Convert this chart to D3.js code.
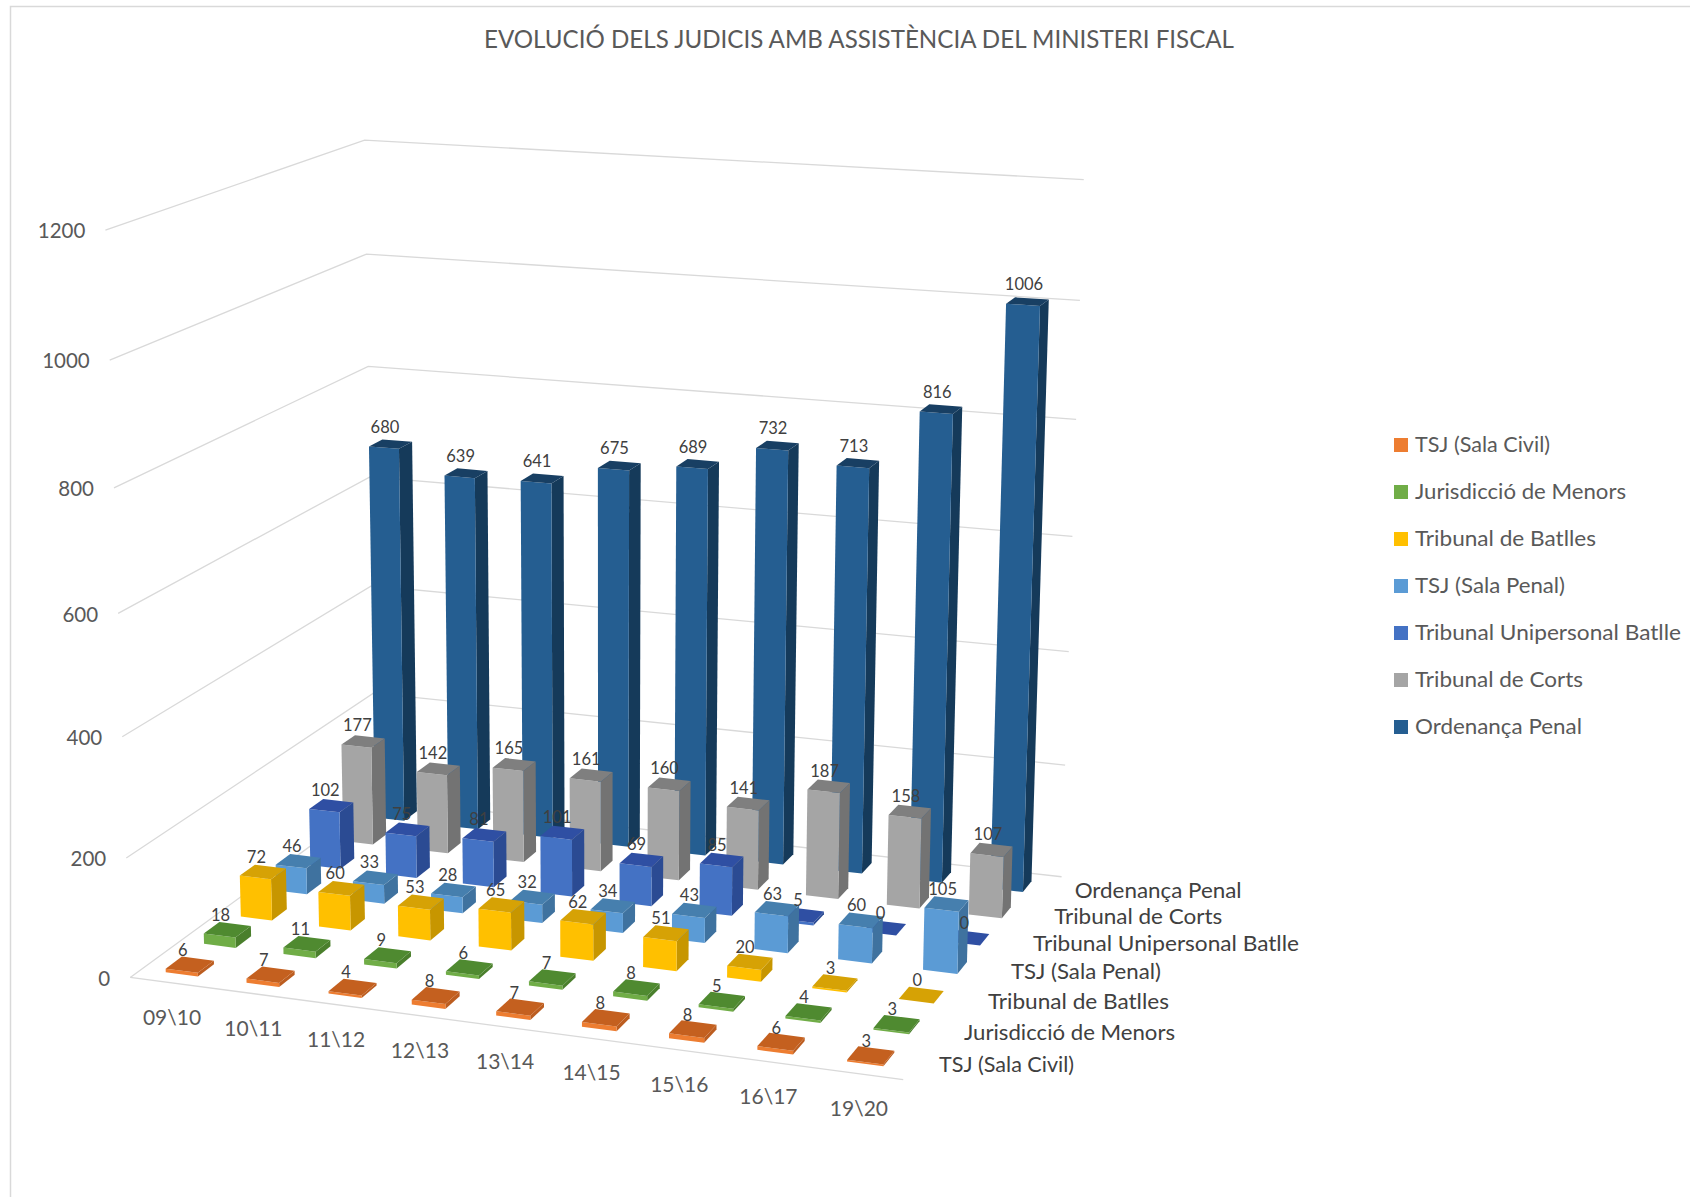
<!DOCTYPE html>
<html><head><meta charset="utf-8">
<script src="https://cdn.jsdelivr.net/npm/d3@7"></script>
<style>html,body{margin:0;padding:0;background:#fff}svg{display:block}text{font-family:Lato,"Open Sans",sans-serif}</style>
</head><body><svg id="c" width="1690" height="1197"></svg>
<script>
const title = "EVOLUCIÓ DELS JUDICIS AMB ASSISTÈNCIA DEL MINISTERI FISCAL";
const categories = ["09\\10","10\\11","11\\12","12\\13","13\\14","14\\15","15\\16","16\\17","19\\20"];
const seriesNames = ["TSJ (Sala Civil)","Jurisdicció de Menors","Tribunal de Batlles","TSJ (Sala Penal)","Tribunal Unipersonal Batlle","Tribunal de Corts","Ordenança Penal"];
const tsjCivil = [6,7,4,8,7,8,8,6,3];
const menors = [18,11,9,6,7,8,5,4,3];
const batlles = [72,60,53,65,62,51,20,3,0];
const tsjPenal = [46,33,28,32,34,43,63,60,105];
const unipersonal = [102,75,81,101,69,85,5,0,0];
const corts = [177,142,165,161,160,141,187,158,107];
const ordenanca = [680,639,641,675,689,732,713,816,1006];
const seriesValues = [tsjCivil,menors,batlles,tsjPenal,unipersonal,corts,ordenanca];
const valueTicks = [0,200,400,600,800,1000,1200];
const faceColors = ["#ED7D31","#70AD47","#FFC000","#5B9BD5","#4472C4","#A5A5A5","#255E91"];
const topColors  = ["#C4601F","#4F8A30","#D6A205","#467FAE","#2F4FA3","#7F7F7F","#183F63"];
const sideColors = ["#BC5D20","#4A7F2C","#C79600","#3F729F","#2B4B93","#737373","#153A5A"];
const labelWidths = [135,211,181,150,266,168,167];

// calibration of the perspective box: [x share, value, z share] -> screen px
const anchorsPx = [
 [0,0,0,130.7,977],[0,200,0,126,858],[0,400,0,122.3,736.7],[0,600,0,118.3,613],[0,800,0,114.3,487],[0,1000,0,110.7,359],[0,1200,0,106,230],
 [0,1200,1,365,140],[0,1000,1,366,254],[0,800,1,368.3,366],[0,0,1,379,794],
 [1,1200,1,1084,180],[1,1000,1,1081,299.5],[1,800,1,1077,419],[1,200,1,1065,765],[1,0,1,1062,877],
 [1,0,0,903,1078],
 [.0778,680,.9586,411,442.7],[.1889,639,.9586,486.7,471.7],[.4111,675,.9586,639.3,463.3],[.9667,1006,.9586,1047.6,301],
 [.0778,72,.387,285,870.7],[.0778,177,.8157,383.3,740],[.0778,102,.6729,352.3,804],[.0778,6,.1014,213.3,962.7],
 [.0333,0,.327,240.7,916.7]
];
const yVal=d3.scaleLinear().domain([0,1200]).range([0,1]);
function fitCamera(rows){
  const A=[],B=[];
  rows.forEach(([X,val,Z,px,py])=>{
    const Y=yVal(val),u=px/1000,v=py/1000;
    A.push([X,Y,Z,1,0,0,0,0,-u*X,-u*Y,-u*Z]);B.push(u);
    A.push([0,0,0,0,X,Y,Z,1,-v*X,-v*Y,-v*Z]);B.push(v);
  });
  const n=11,M=d3.range(n).map(i=>d3.range(n+1).map(j=>{
    let s=0;A.forEach((r,q)=>{s+=r[i]*(j<n?r[j]:B[q]);});return s;}));
  for(let c=0;c<n;c++){
    let p=c;for(let r=c+1;r<n;r++)if(Math.abs(M[r][c])>Math.abs(M[p][c]))p=r;
    [M[c],M[p]]=[M[p],M[c]];
    for(let r=0;r<n;r++){if(r===c)continue;const f=M[r][c]/M[c][c];
      for(let j=c;j<=n;j++)M[r][j]-=f*M[c][j];}
  }
  return M.map((r,i)=>r[n]/r[i]);
}
const P=fitCamera(anchorsPx);
function project(x,y,z){
  const w=P[8]*x+P[9]*y+P[10]*z+1;
  return [1000*(P[0]*x+P[1]*y+P[2]*z+P[3])/w,1000*(P[4]*x+P[5]*y+P[6]*z+P[7])/w];
}

const xBand=d3.scaleBand().domain(categories).range([0,1]);
const zBand=d3.scaleBand().domain(seriesNames).range([0,1]);
const barShare=0.40, depthShare=0.42;

const svg=d3.select("#c");
svg.append("path").attr("d","M10.5,1197V6.5H1690").attr("fill","none").attr("stroke","#D9D9D9").attr("stroke-width",1.5);
svg.append("text").attr("x",859).attr("y",48).attr("text-anchor","middle").attr("font-size",25)
  .attr("textLength",750).attr("lengthAdjust","spacingAndGlyphs").attr("fill","#595959").text(title);

const line=d3.line();
const grid=svg.append("g").attr("fill","none").attr("stroke","#D9D9D9").attr("stroke-width",1.3);
valueTicks.forEach(t=>{
  const y=yVal(t);
  grid.append("path").attr("d",line([project(0,y,0),project(0,y,1),project(1,y,1)]));
});
grid.append("path").attr("d",line([project(0,0,0),project(1,0,0)]));

svg.append("g").selectAll("text").data(valueTicks).join("text")
  .attr("x",t=>project(0,yVal(t),0)[0]-20).attr("y",t=>project(0,yVal(t),0)[1]+3)
  .attr("text-anchor","end").attr("dominant-baseline","middle")
  .attr("font-size",20.5).attr("fill","#595959").text(t=>t);

svg.append("g").selectAll("text").data(categories).join("text")
  .attr("x",c=>project(xBand(c)+xBand.bandwidth()/2,0,0)[0]+1.5)
  .attr("y",c=>project(xBand(c)+xBand.bandwidth()/2,0,0)[1]+37)
  .attr("text-anchor","middle").attr("dominant-baseline","middle")
  .attr("font-size",21).attr("fill","#595959").text(c=>c);

svg.append("g").selectAll("text").data(seriesNames).join("text")
  .attr("x",s=>project(1,0,zBand(s)+zBand.bandwidth()/2)[0]+23)
  .attr("y",s=>project(1,0,zBand(s)+zBand.bandwidth()/2)[1]+3)
  .attr("dominant-baseline","middle").attr("font-size",21.5).attr("fill","#404040")
  .attr("textLength",(s,i)=>labelWidths[i]).attr("lengthAdjust","spacingAndGlyphs").text(s=>s);

const bars=svg.append("g"), labels=[];
for(let si=seriesNames.length-1;si>=0;si--){
  const name=seriesNames[si];
  const bw=xBand.bandwidth()*barShare, bd=zBand.bandwidth()*depthShare;
  const zc=zBand(name)+zBand.bandwidth()/2, z0=zc-bd/2, z1=zc+bd/2;
  categories.forEach((cat,ci)=>{
    const xc=xBand(cat)+xBand.bandwidth()/2, x0=xc-bw/2, x1=xc+bw/2;
    const v=seriesValues[si][ci], y=yVal(v);
    const g=bars.append("g");
    g.append("path").attr("fill",sideColors[si]).attr("d",line([project(x1,0,z0),project(x1,0,z1),project(x1,y,z1),project(x1,y,z0)])+"Z");
    g.append("path").attr("fill",faceColors[si]).attr("d",line([project(x0,0,z0),project(x1,0,z0),project(x1,y,z0),project(x0,y,z0)])+"Z");
    g.append("path").attr("fill",topColors[si]).attr("d",line([project(x0,y,z0),project(x1,y,z0),project(x1,y,z1),project(x0,y,z1)])+"Z");
    const f=project(xc,y,z0);
    labels.push({x:f[0]+1,y:f[1]-19,v});
  });
}
svg.append("g").selectAll("text").data(labels).join("text")
  .attr("x",d=>d.x).attr("y",d=>d.y).attr("text-anchor","middle").attr("dominant-baseline","middle")
  .attr("font-size",16.5).attr("fill","#404040").text(d=>d.v);

const legendY=d3.scalePoint().domain(seriesNames).range([445,727]);
const lg=svg.append("g");
lg.selectAll("rect").data(seriesNames).join("rect")
  .attr("x",1394).attr("y",s=>legendY(s)-7).attr("width",14).attr("height",14)
  .attr("fill",(s,i)=>faceColors[i]);
lg.selectAll("text").data(seriesNames).join("text")
  .attr("x",1415).attr("y",s=>legendY(s)+2).attr("dominant-baseline","middle")
  .attr("font-size",21.5).attr("fill","#595959")
  .attr("textLength",(s,i)=>labelWidths[i]).attr("lengthAdjust","spacingAndGlyphs").text(s=>s);
</script></body></html>
